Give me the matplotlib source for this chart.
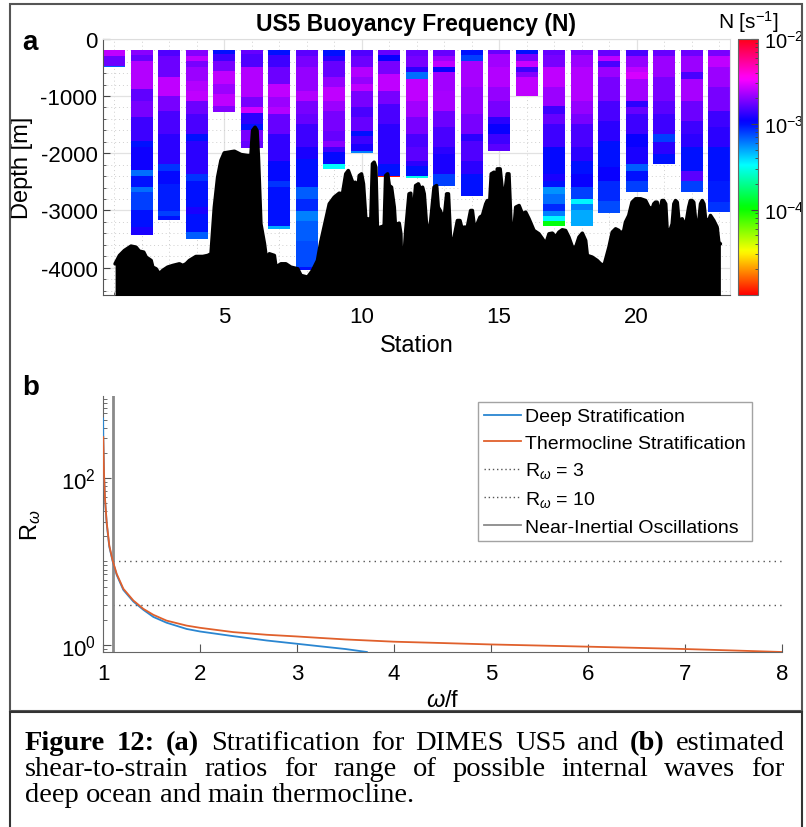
import numpy as np
import matplotlib
matplotlib.use("Agg")
import matplotlib.pyplot as plt
from matplotlib.colors import LogNorm
from matplotlib.patches import Rectangle
from matplotlib.lines import Line2D
import matplotlib.ticker as mticker
import matplotlib.cm as cm

plt.rcParams['font.family'] = ['Liberation Sans', 'DejaVu Sans']
plt.rcParams['mathtext.fontset'] = 'custom'
plt.rcParams['mathtext.rm'] = 'Liberation Sans'
plt.rcParams['mathtext.it'] = 'Liberation Sans:italic'
plt.rcParams['mathtext.bf'] = 'Liberation Sans:bold'
plt.rcParams['axes.unicode_minus'] = False

# ---------------- panel a data ----------------
stations = list(range(1, 24))
profile_top_m = 200

# layer bottoms (m) and buoyancy frequency N (1e-3 s^-1) for each station
layer_bottom_m = [
    [300, 480, 500],
    [280, 383, 880, 1080, 1370, 1780, 1900, 2300, 2390, 2590, 2680, 3000, 3290, 3420],
    [296, 674, 994, 1256, 1663, 2187, 2303, 2536, 3001, 3088, 3164],
    [296, 383, 500, 732, 907, 1081, 1314, 1663, 1780, 2361, 2477, 2943, 3059, 3379, 3495],
    [267, 383, 558, 791, 965, 1169, 1273],
    [267, 500, 1023, 1198, 1302, 1489, 1593, 1780, 1907],
    [279, 500, 791, 1023, 1198, 1314, 1663, 2128, 2477, 2594, 3263, 3321],
    [296, 500, 907, 1081, 1314, 1489, 1896, 2100, 2594, 2797, 3001, 3176, 3525, 3990, 4036],
    [296, 383, 674, 849, 1081, 1256, 1605, 1780, 1896, 1983, 2187, 2274],
    [296, 500, 674, 791, 907, 1198, 1372, 1605, 1692, 1838, 1954, 2001],
    [279, 383, 616, 907, 1140, 1489, 2187, 2390, 2419],
    [296, 500, 587, 703, 1081, 1372, 1663, 1896, 2128, 2216, 2400, 2431],
    [296, 383, 500, 587, 907, 1256, 1547, 1896, 2012, 2361, 2570],
    [279, 383, 849, 1314, 1663, 1780, 2128, 2361, 2739],
    [267, 500, 849, 1081, 1372, 1489, 1663, 1838, 1966],
    [267, 383, 500, 587, 674, 1006],
    [279, 500, 849, 1169, 1314, 1489, 1896, 2361, 2477, 2594, 2710, 2885, 3001, 3088, 3187, 3274],
    [279, 500, 1081, 1314, 1489, 1896, 2128, 2361, 2594, 2797, 2885, 2983, 3274],
    [296, 383, 500, 674, 1081, 1430, 1780, 2245, 2477, 2827, 3048],
    [296, 500, 587, 703, 1081, 1198, 1314, 1663, 1896, 2187, 2303, 2477, 2681],
    [296, 674, 1081, 1314, 1663, 1809, 2012, 2187],
    [296, 587, 703, 1081, 1430, 1663, 1896, 2303, 2477, 2681],
    [296, 500, 849, 1256, 1547, 1896, 2477, 2850, 3030],
]
layer_n = [
    [2.55, 1.75, 0.7],
    [2.0, 1.7, 2.4, 1.65, 1.85, 1.4, 1.0, 1.15, 0.65, 1.0, 0.65, 0.8, 1.0, 1.2],
    [1.55, 1.75, 2.55, 1.85, 1.5, 1.3, 0.85, 1.05, 0.95, 0.8, 1.0],
    [1.95, 2.55, 1.85, 2.2, 2.4, 2.55, 1.75, 1.5, 1.0, 1.3, 0.85, 1.0, 1.2, 1.0, 0.7],
    [1.0, 1.4, 1.85, 2.55, 2.2, 2.55, 1.95],
    [1.7, 1.55, 2.4, 1.85, 2.75, 1.3, 1.0, 1.85, 1.7],
    [1.0, 1.4, 1.75, 2.55, 2.2, 2.4, 1.7, 1.35, 1.05, 0.85, 1.0, 0.5],
    [1.6, 1.85, 2.1, 2.4, 1.85, 1.7, 1.4, 1.2, 1.0, 0.7, 0.9, 0.6, 0.7, 0.75, 1.0],
    [1.0, 1.3, 1.7, 2.1, 2.55, 2.2, 1.85, 1.7, 2.0, 1.4, 1.05, 0.33],
    [1.55, 1.75, 2.4, 2.1, 2.55, 1.85, 1.5, 1.7, 1.0, 1.4, 1.2, 0.6],
    [1.7, 1.1, 1.85, 2.55, 1.85, 1.5, 1.3, 1.0, 0.011],
    [1.7, 1.85, 1.3, 0.65, 2.55, 2.25, 1.85, 1.5, 1.6, 1.3, 1.0, 0.3],
    [1.7, 2.2, 2.55, 1.1, 2.25, 2.3, 1.75, 1.5, 1.3, 1.2, 0.8],
    [1.0, 0.8, 2.3, 2.1, 1.85, 1.3, 1.55, 1.3, 1.0],
    [1.7, 2.25, 2.45, 2.1, 1.85, 1.3, 1.1, 1.4, 1.6],
    [1.0, 1.85, 2.7, 1.4, 1.95, 2.55],
    [1.7, 1.85, 2.55, 2.2, 1.4, 1.7, 1.4, 1.05, 1.2, 1.0, 0.55, 0.65, 0.9, 0.6, 0.35, 0.11],
    [1.85, 2.2, 2.45, 2.1, 1.85, 1.5, 1.3, 1.0, 1.1, 0.8, 0.35, 0.6, 0.5],
    [1.7, 2.55, 1.5, 2.2, 1.85, 1.5, 1.3, 1.0, 1.1, 0.9, 0.75],
    [1.5, 2.1, 2.55, 2.85, 2.25, 1.3, 1.7, 1.4, 1.1, 1.2, 0.7, 1.0, 0.8],
    [1.7, 2.2, 1.85, 1.6, 1.4, 0.8, 1.3, 1.0],
    [1.75, 2.2, 1.5, 2.3, 1.75, 1.4, 1.3, 1.0, 1.6, 0.8],
    [1.85, 2.55, 2.2, 1.85, 1.4, 1.3, 1.0, 0.95, 0.85],
]

# seafloor along the section (station coordinate, depth in m)
bathy_station = [
    1.04, 1.20, 1.38, 1.62, 1.80, 1.92, 2.08, 2.17, 2.35, 2.41, 2.53, 2.65, 2.77, 2.95,
    3.14, 3.38, 3.50, 3.62, 3.74, 3.98, 4.23, 4.41, 4.53, 4.65, 4.77, 4.89, 5.01, 5.38,
    5.62, 5.86, 5.98, 6.04, 6.13, 6.20, 6.25, 6.34, 6.47, 6.55, 6.65, 6.83, 6.89, 7.07,
    7.25, 7.43, 7.68, 7.80, 8.04, 8.22, 8.40, 8.52, 8.64, 8.83, 9.01, 9.19, 9.31, 9.43,
    9.52, 9.61, 9.70, 9.77, 9.86, 9.92, 10.00, 10.07, 10.16, 10.24, 10.34, 10.40, 10.46,
    10.52, 10.58, 10.68, 10.76, 10.82, 10.88, 10.95, 11.01, 11.09, 11.19, 11.25, 11.31,
    11.37, 11.43, 11.47, 11.49, 11.53, 11.61, 11.73, 11.79, 11.85, 11.97, 12.07, 12.16,
    12.22, 12.28, 12.40, 12.52, 12.64, 12.73, 12.79, 12.86, 12.91, 13.00, 13.10, 13.16,
    13.25, 13.37, 13.49, 13.58, 13.67, 13.73, 13.85, 13.97, 14.03, 14.12, 14.21, 14.31,
    14.40, 14.52, 14.58, 14.64, 14.72, 14.82, 14.88, 14.94, 15.04, 15.12, 15.21, 15.30,
    15.36, 15.45, 15.55, 15.61, 15.73, 15.85, 15.97, 16.09, 16.27, 16.45, 16.58, 16.70,
    16.82, 16.94, 17.06, 17.18, 17.30, 17.42, 17.54, 17.67, 17.79, 17.91, 18.03, 18.15,
    18.21, 18.39, 18.57, 18.69, 18.82, 19.00, 19.12, 19.24, 19.36, 19.42, 19.54, 19.60,
    19.72, 19.84, 19.97, 20.15, 20.33, 20.45, 20.57, 20.63, 20.69, 20.75, 20.81, 20.87,
    20.93, 20.99, 21.06, 21.12, 21.18, 21.30, 21.36, 21.42, 21.48, 21.54, 21.66, 21.78,
    21.90, 21.96, 22.02, 22.08, 22.15, 22.27, 22.33, 22.39, 22.45, 22.51, 22.63, 22.69,
    22.81, 22.93, 22.99, 23.05,
]
bathy_depth_m = [
    3932, 3786, 3699, 3623, 3641, 3711, 3728, 3815, 3874, 3990, 4019, 4106, 4048, 3990,
    3961, 3932, 3961, 3932, 3874, 3804, 3804, 3786, 3757, 2943, 2419, 2128, 1995, 1966,
    2024, 2041, 2041, 1605, 1547, 1605, 2070, 3234, 3583, 3874, 3757, 3786, 3990, 3932,
    3932, 3990, 4019, 4135, 4165, 4048, 3874, 3550, 3292, 2885, 2768, 2699, 2710, 2361,
    2303, 2419, 2536, 2507, 2652, 2390, 2361, 2536, 3176, 3146, 3176, 2187, 2157,
    2245, 3379, 3292, 3280, 3379, 2390, 2361, 2565, 2594, 2943, 3408, 3234,
    3222, 3408, 4300, 4460, 3932, 3350, 2710, 2699, 3234, 2565, 2536, 2652,
    2594, 2710, 3495, 3176, 2594, 2565, 2943, 3001, 3059, 3176, 2710, 2710,
    3641, 3466, 3176, 3176, 3350, 3292, 3292, 3001, 3001, 3350, 3234, 3117,
    3088, 2885, 2827, 3059, 2361, 2332, 2652, 2274, 2274, 2652, 2710, 2361,
    2361, 3408, 3292, 2943, 2914, 3059, 3030, 3146, 3350, 3408, 3495, 3583,
    3408, 3397, 3466, 3379, 3338, 3350, 3466, 3641, 3641, 3466, 3397, 3525,
    3786, 3815, 3874, 3932, 3961, 3641, 3379, 3321, 3350, 3408, 3350, 3205,
    3088, 2856, 2797, 2797, 2827, 2943, 2972, 2885, 2856, 2856, 3408, 2943,
    2827, 2827, 2885, 3408, 3408, 3234, 2885, 2827, 2856, 3176, 3146, 3292,
    2943, 2827, 2827, 2856, 3176, 3176, 2885, 2827, 2885, 3146, 3176, 3088,
    3176, 3292, 3554, 3583,
]

# ---------------- panel b data ----------------
deep_w = [1.001, 1.003, 1.010, 1.021, 1.038, 1.065, 1.10, 1.141, 1.21, 1.313, 1.416,
          1.519, 1.656, 1.862, 2.0, 2.343, 2.687, 2.997, 3.237, 3.5, 3.72]
deep_r = [520, 300, 114, 54, 28.5, 15.0, 10.0, 6.9, 4.55, 3.3, 2.63,
          2.16, 1.84, 1.55, 1.445, 1.27, 1.127, 1.03, 0.96, 0.89, 0.82]
thermo_w = [1.003, 1.010, 1.021, 1.038, 1.065, 1.10, 1.141, 1.21, 1.313, 1.416, 1.519,
            1.656, 1.862, 2.0, 2.343, 2.687, 2.997, 3.237, 3.5, 4.0, 4.5, 5.0, 5.5,
            6.0, 6.5, 7.0, 7.5, 8.0]
thermo_r = [310, 117, 56, 29.5, 15.5, 10.2, 7.1, 4.7, 3.4, 2.70, 2.29,
            1.95, 1.70, 1.60, 1.42, 1.32, 1.26, 1.21, 1.16, 1.09, 1.05, 1.01, 0.98,
            0.95, 0.92, 0.89, 0.855, 0.82]
r_levels = [3, 10]
nio_freq = 1.1

W, H = 806, 828
fig = plt.figure(figsize=(W / 100, H / 100), dpi=100)


def fx(px):
    return px / W


def fy(py):
    return 1 - py / H


# ---------------- panel a ----------------
ax = fig.add_axes([fx(103), fy(296), fx(730) - fx(103), fy(39.7) - fy(296)])
cmap = plt.get_cmap('hsv')
norm = LogNorm(vmin=1.0e-5, vmax=1.0e-2)

for st, zb, nv in zip(stations, layer_bottom_m, layer_n):
    zt = [profile_top_m] + zb[:-1]
    for top, bot, n in zip(zt, zb, nv):
        ax.bar(st, bot - top, bottom=-bot, width=0.8,
               color=cmap(norm(np.clip(n * 1e-3, 1.0e-5, 1.0e-2))),
               linewidth=0, zorder=2)

bx = np.array(bathy_station)
bd = -np.array(bathy_depth_m)
ax.fill_between(bx, bd, -6000, color='black', linewidth=0, zorder=3)
ax.plot(bx, bd, color='black', lw=2.6, solid_joinstyle='round',
        solid_capstyle='round', zorder=3)

ax.set_xlim(0.6, 23.4)
ax.set_ylim(-4476, 0)
ax.set_xticks([5, 10, 15, 20])
ax.set_yticks([0, -1000, -2000, -3000, -4000])
ax.xaxis.set_minor_locator(mticker.MultipleLocator(1))
ax.yaxis.set_minor_locator(mticker.MultipleLocator(200))
ax.set_axisbelow(True)
ax.grid(True, which='major', color='#e2e2e2', lw=0.9)
ax.grid(True, which='minor', color='#cfcfcf', lw=0.7, linestyle=(0, (1, 3)))
ax.tick_params(which='both', direction='in', labelsize=16, colors='#444444',
               labelcolor='black', top=False, right=False)
ax.tick_params(which='major', length=5)
ax.tick_params(which='minor', length=2.5)
ax.tick_params(axis='x', pad=8)
ax.tick_params(axis='y', pad=4)
for s in ['left', 'bottom']:
    ax.spines[s].set_color('#555555')
for s in ['top', 'right']:
    ax.spines[s].set_color('#dddddd')
ax.set_title('US5 Buoyancy Frequency (N)', fontweight='bold', fontsize=16.5, pad=6)
ax.set_xlabel('Station', fontsize=17)
ax.set_ylabel('Depth [m]', fontsize=17)
ax.xaxis.set_label_coords(0.5, -0.152)
ax.yaxis.set_label_coords(-0.112, 0.5)

cax = fig.add_axes([fx(738), fy(296), fx(758) - fx(738), fy(39.7) - fy(296)])
sm = cm.ScalarMappable(norm=norm, cmap=cmap)
cb = fig.colorbar(sm, cax=cax)
cb.set_ticks([1e-4, 1e-3, 1e-2])
cb.ax.tick_params(which='both', direction='in', labelsize=14.5, colors='#444444',
                  labelcolor='black', pad=4)
cb.ax.tick_params(which='major', length=5)
cb.ax.tick_params(which='minor', length=2.5)
cb.outline.set_edgecolor('#666666')
cb.outline.set_linewidth(0.8)
fig.text(fx(748), fy(22), r'N [s$^{-1}$]', fontsize=15, ha='center', va='center')

# ---------------- panel b ----------------
ax2 = fig.add_axes([fx(103), fy(653), fx(782) - fx(103), fy(397) - fy(653)])
ax2.set_yscale('log')
l_deep, = ax2.plot(deep_w, deep_r, color='#2a86d1', lw=1.3, zorder=4)
l_thermo, = ax2.plot(thermo_w, thermo_r, color='#e0602c', lw=1.3, zorder=5)
ax2.hlines(r_levels[0], nio_freq, 8, colors='#555555', lw=1.0,
           linestyles=(0, (1, 3)), zorder=2)
ax2.hlines(r_levels[1], nio_freq, 8, colors='#555555', lw=1.0,
           linestyles=(0, (1, 3)), zorder=2)
ax2.axvline(nio_freq, color='#8a8a8a', lw=2.0, zorder=3)
ax2.set_xlim(1, 8)
ax2.set_ylim(0.82, 965)
ax2.set_xticks(range(1, 9))
ax2.yaxis.set_major_locator(mticker.FixedLocator([1, 100]))
minor_vals = [0.9] + list(range(2, 10)) + list(range(10, 100, 10)) + list(range(200, 1000, 100))
ax2.yaxis.set_minor_locator(mticker.FixedLocator(minor_vals))
ax2.yaxis.set_minor_formatter(mticker.NullFormatter())
ax2.yaxis.set_major_formatter(mticker.FuncFormatter(
    lambda v, p: r'$\mathdefault{10^{%d}}$' % int(round(np.log10(v)))))
ax2.tick_params(which='both', direction='in', labelsize=16, colors='#555555',
                labelcolor='black', top=False, right=False)
ax2.tick_params(which='major', length=6)
ax2.tick_params(which='minor', length=3)
ax2.tick_params(axis='x', pad=8)
ax2.tick_params(axis='y', pad=5)
ax2.spines['top'].set_visible(False)
ax2.spines['right'].set_visible(False)
for s in ['left', 'bottom']:
    ax2.spines[s].set_color('#666666')
ax2.set_xlabel(r'$\omega$/f', fontsize=17)
ax2.set_ylabel(r'R$_\omega$', fontsize=17)
ax2.xaxis.set_label_coords(0.5, -0.145)
ax2.yaxis.set_label_coords(-0.088, 0.5)

handles = [
    Line2D([], [], color='#2a86d1', lw=1.3),
    Line2D([], [], color='#e0602c', lw=1.3),
    Line2D([], [], color='#555555', lw=1.0, linestyle=(0, (1, 2))),
    Line2D([], [], color='#555555', lw=1.0, linestyle=(0, (1, 2))),
    Line2D([], [], color='#8a8a8a', lw=1.3),
]
labels = ['Deep Stratification', 'Thermocline Stratification',
          r'R$_\omega$ = 3', r'R$_\omega$ = 10', 'Near-Inertial Oscillations']
leg = ax2.legend(handles, labels, loc='upper left', bbox_to_anchor=(0.552, 0.977),
                 fontsize=14, frameon=True, fancybox=False, edgecolor='#8c8c8c',
                 handlelength=1.9, handletextpad=0.25, borderpad=0.3,
                 labelspacing=0.45, borderaxespad=0)
leg.get_frame().set_linewidth(1.0)

# panel letters
fig.text(fx(22), fy(43), 'a', fontsize=20, fontweight='bold', va='center', ha='left')
fig.text(fx(22), fy(388), 'b', fontsize=20, fontweight='bold', va='center', ha='left')

# frames around the figure panels and the caption
fig.add_artist(Rectangle((fx(10), fy(712)), fx(802) - fx(10), fy(5) - fy(712),
                         transform=fig.transFigure, fill=False, ec='#555555', lw=1.5))
fig.add_artist(Rectangle((fx(10), fy(840)), fx(802) - fx(10), fy(713) - fy(840),
                         transform=fig.transFigure, fill=False, ec='#333333', lw=1.5,
                         clip_on=False))

# caption, justified
renderer = fig.canvas.get_renderer()
cap_size = 20.5


def caption_line(words, y_base, x0, x1, justify=True):
    arts, widths = [], []
    for w, bold in words:
        t = fig.text(0, fy(y_base), w, fontsize=cap_size, family='Liberation Serif',
                     fontweight='bold' if bold else 'normal', va='baseline', ha='left')
        bb = t.get_window_extent(renderer=renderer)
        arts.append(t)
        widths.append(bb.width)
    if justify and len(words) > 1:
        gap = (x1 - x0 - sum(widths)) / (len(words) - 1)
    else:
        gap = 0.25 * cap_size * 100 / 72
    x = x0
    for t, w in zip(arts, widths):
        t.set_x(fx(x))
        x += w + gap


line1 = [('Figure', True), ('12:', True), ('(a)', True), ('Stratification', False),
         ('for', False), ('DIMES', False), ('US5', False), ('and', False),
         ('(b)', True), ('estimated', False)]
line2 = [(w, False) for w in 'shear-to-strain ratios for range of possible internal waves for'.split()]
line3 = [(w, False) for w in 'deep ocean and main thermocline.'.split()]
caption_line(line1, 750, 25, 785)
caption_line(line2, 776, 25, 785)
caption_line(line3, 802, 25, 785, justify=False)

fig.savefig('out.png', dpi=100)
